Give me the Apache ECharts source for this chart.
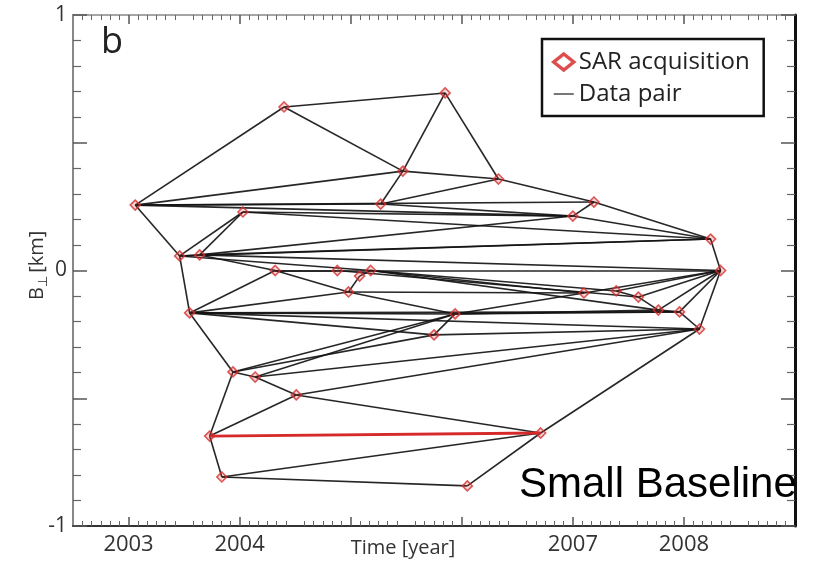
<!DOCTYPE html>
<html>
<head>
<meta charset="utf-8">
<script src="https://cdn.jsdelivr.net/npm/echarts@6/dist/echarts.min.js"></script>
<style>
  html, body { margin: 0; padding: 0; background: #fff; }
  #chart { width: 821px; height: 563px; }
</style>
</head>
<body>
<div id="chart"></div>
<script>
// SAR acquisitions: acquisition time (decimal year) and perpendicular baseline (km)
const acqTime = [
  2003.06, 2004.40, 2005.85, 2005.47, 2005.27, 2006.33, 2007.19, 2007.00,
  2004.03, 2008.24, 2003.46, 2003.64, 2004.32, 2004.88, 2005.08, 2005.18,
  2004.98, 2008.33, 2007.10, 2007.39, 2007.59, 2007.77, 2007.96, 2008.14,
  2003.55, 2005.94, 2005.75, 2003.94, 2004.14, 2004.51, 2003.73, 2006.71,
  2003.84, 2006.05
];
const acqBaseline = [
  0.256, 0.640, 0.695, 0.389, 0.260, 0.358, 0.268, 0.213,
  0.229, 0.123, 0.057, 0.061, 0.000, 0.000, -0.022, 0.000,
  -0.084, 0.000, -0.088, -0.080, -0.104, -0.155, -0.162, -0.229,
  -0.166, -0.170, -0.252, -0.397, -0.417, -0.487, -0.648, -0.636,
  -0.808, -0.843
];

// Interferometric data pairs (indices into the acquisition lists)
const dataPairs = [
  [0, 1], [1, 2], [1, 3], [2, 3], [2, 5], [0, 3], [3, 4], [3, 5], [4, 5],
  [5, 6], [6, 9], [6, 7], [7, 9], [9, 17], [0, 4], [0, 6], [0, 7], [8, 7],
  [4, 7], [0, 10], [8, 10], [8, 11], [10, 11], [11, 7], [10, 9], [11, 9],
  [8, 9], [10, 24], [11, 12], [11, 17], [10, 15], [12, 17], [12, 13],
  [14, 15], [14, 16], [12, 16], [24, 16], [24, 12], [24, 25], [24, 26],
  [24, 23], [24, 22], [24, 27], [16, 25], [16, 18], [25, 26], [25, 21],
  [25, 22], [25, 18], [26, 23], [15, 18], [15, 19], [13, 20], [15, 21],
  [17, 18], [17, 19], [17, 20], [17, 21], [17, 22], [17, 23], [19, 20],
  [20, 21], [21, 22], [22, 23], [27, 28], [28, 29], [27, 30], [29, 30],
  [30, 32], [32, 31], [32, 33], [33, 31], [29, 31], [31, 23], [27, 26],
  [27, 25], [28, 25], [28, 23], [29, 23]
];
// The highlighted small-baseline pair
const highlightPair = [30, 31];

// Axis ticks and labels
const yearTicks = [2003, 2004, 2005, 2006, 2007, 2008];
const yearLabels = [2003, 2004, 2007, 2008];
const baselineLabels = [-1, 0, 1];

const chart = echarts.init(document.getElementById('chart'), null, { renderer: 'canvas' });

const pairCoords = (p) => [[acqTime[p[0]], acqBaseline[p[0]]], [acqTime[p[1]], acqBaseline[p[1]]]];

const lineData = dataPairs.map(p => ({ coords: pairCoords(p) }));
lineData.push({
  coords: pairCoords(highlightPair),
  lineStyle: { color: '#d62a2a', width: 2.8, opacity: 1 }
});

const FONT = 'Open Sans';

const xAxisBase = {
  type: 'value', min: 2002.5, max: 2009, interval: 0.5,
  splitLine: { show: false },
  axisTick: { show: true, inside: true, length: 9, customValues: yearTicks,
              lineStyle: { color: '#555', width: 1.5 } },
  minorTick: { show: true, splitNumber: 6, length: 5, lineStyle: { color: '#666', width: 1 } }
};
const yAxisBase = {
  type: 'value', min: -1, max: 1, interval: 0.5,
  splitLine: { show: false },
  axisTick: { show: true, inside: true, length: 14, lineStyle: { color: '#555', width: 1.5 } },
  minorTick: { show: true, splitNumber: 5, length: 8, lineStyle: { color: '#666', width: 1.2 } }
};

const option = {
  animation: false,
  backgroundColor: '#fff',
  grid: { left: 73, right: 26, top: 15, bottom: 37, containLabel: false },
  xAxis: [
    Object.assign({}, xAxisBase, {
      position: 'bottom',
      axisLine: { show: true, onZero: false, lineStyle: { color: '#333', width: 2 } },
      axisLabel: { customValues: yearLabels, formatter: v => String(v), fontSize: 22,
                   color: '#333', margin: 8, fontFamily: FONT }
    }),
    Object.assign({}, xAxisBase, {
      position: 'top',
      axisLine: { show: true, onZero: false, lineStyle: { color: '#888', width: 1.5 } },
      axisLabel: { show: false }
    })
  ],
  yAxis: [
    Object.assign({}, yAxisBase, {
      position: 'left',
      axisLine: { show: true, onZero: false, lineStyle: { color: '#888', width: 2 } },
      axisLabel: { customValues: baselineLabels, formatter: v => String(v), fontSize: 21,
                   color: '#333', margin: 6, fontFamily: FONT }
    }),
    Object.assign({}, yAxisBase, {
      position: 'right',
      axisLine: { show: true, onZero: false, lineStyle: { color: '#111', width: 3 } },
      axisLabel: { show: false }
    })
  ],
  legend: {
    orient: 'vertical', left: 542, top: 39,
    itemWidth: 20, itemHeight: 16, itemGap: 6,
    padding: [10, 14, 9, 10],
    borderColor: '#111', borderWidth: 2.5,
    selectedMode: false,
    textStyle: { fontSize: 24, color: '#222', fontFamily: FONT, lineHeight: 26 },
    data: [
      { name: 'SAR acquisition', icon: 'diamond',
        itemStyle: { color: '#fff', borderColor: '#d42020', borderWidth: 3.5 } },
      { name: 'Data pair',
        icon: 'path://M0,0h0.05v0.05h-0.05z M0,7H20V9H0z M0,15.95h0.05v0.05h-0.05z',
        itemStyle: { color: '#777', borderWidth: 0 } }
    ]
  },
  series: [
    {
      name: 'Data pair', type: 'lines', coordinateSystem: 'cartesian2d',
      polyline: false, silent: true, z: 2,
      lineStyle: { color: '#141414', width: 1.6, opacity: 0.92 },
      itemStyle: { color: '#777' },
      data: lineData
    },
    {
      name: 'SAR acquisition', type: 'scatter', z: 3,
      symbol: 'diamond', symbolSize: 10,
      itemStyle: { color: 'rgba(214,48,48,0.25)', borderColor: '#d43030', borderWidth: 1.6 },
      data: acqTime.map((t, i) => [t, acqBaseline[i]])
    }
  ],
  graphic: [
    { type: 'text', left: 101, top: 25, z: 10,
      style: { text: 'b', fontSize: 36, fontFamily: FONT, fill: '#222' } },
    { type: 'text', x: 403, y: 548, z: 10,
      style: { text: 'Time [year]', fontSize: 20, fontFamily: FONT, fill: '#333',
               textAlign: 'center', textVerticalAlign: 'middle' } },
    { type: 'group', x: 37, y: 266, rotation: Math.PI / 2, z: 10,
      children: [
        { type: 'text', x: -34, y: 0,
          style: { text: 'B', fontSize: 20, fontFamily: FONT, fill: '#333',
                   textAlign: 'left', textVerticalAlign: 'middle' } },
        { type: 'text', x: -21, y: 6,
          style: { text: '⊥', fontSize: 13, fontFamily: FONT, fill: '#333',
                   textAlign: 'left', textVerticalAlign: 'middle' } },
        { type: 'text', x: -12, y: 0,
          style: { text: ' [km]', fontSize: 20, fontFamily: FONT, fill: '#333',
                   textAlign: 'left', textVerticalAlign: 'middle' } }
      ]
    },
    { type: 'text', x: 519, y: 485, z: 20,
      style: { text: 'Small Baseline', fontSize: 42, fontFamily: 'Liberation Sans', fill: '#000',
               textAlign: 'left', textVerticalAlign: 'middle' } }
  ]
};

chart.setOption(option);
</script>
</body>
</html>
